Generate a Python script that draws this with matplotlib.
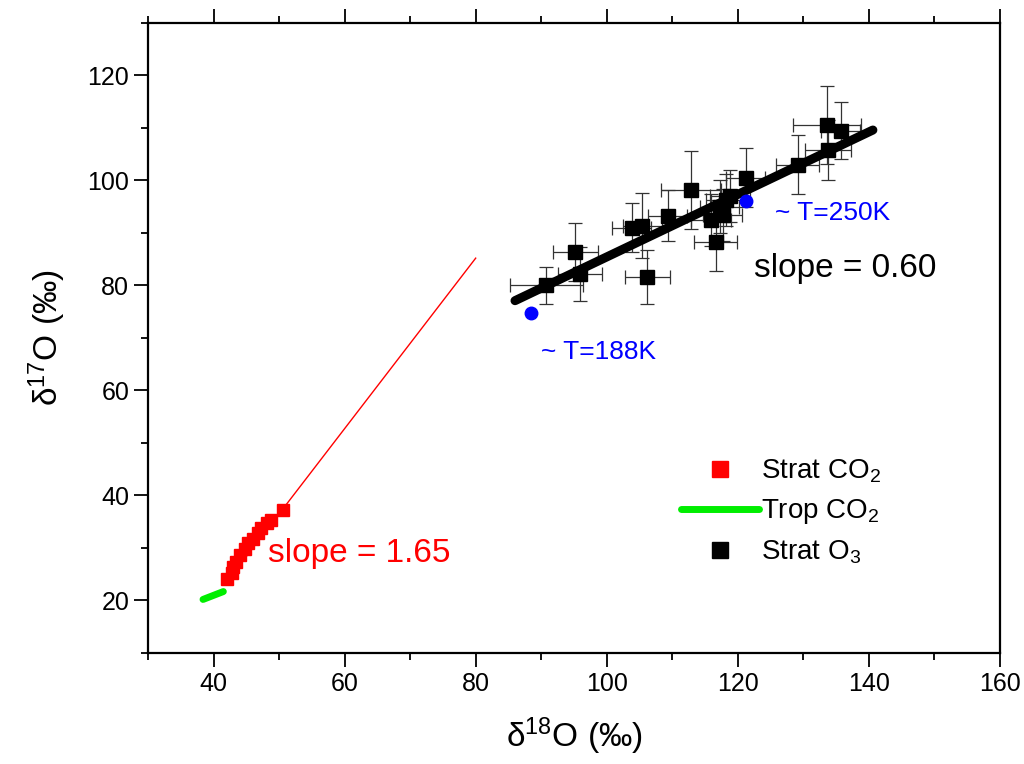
import numpy as np
import matplotlib
matplotlib.use("Agg")
import matplotlib.pyplot as plt
from matplotlib.ticker import MultipleLocator

plt.rcParams['font.family'] = ['Liberation Sans', 'DejaVu Sans']
plt.rcParams['mathtext.fontset'] = 'custom'
plt.rcParams['mathtext.rm'] = 'Liberation Sans'
plt.rcParams['mathtext.it'] = 'Liberation Sans:italic'
plt.rcParams['mathtext.default'] = 'regular'

# strat O3 measurements
o3_x = [90.8, 95.2, 95.9, 106.2, 103.8, 105.4, 109.3, 112.8, 115.9, 116.6,
        117.2, 117.7, 118.2, 118.8, 121.2, 129.1, 133.6, 135.7, 133.7]
o3_y = [80.0, 86.3, 82.2, 81.6, 91.0, 91.4, 93.3, 98.2, 92.5, 88.2,
        95.0, 93.4, 96.3, 97.0, 100.5, 103.0, 110.6, 109.5, 105.8]
o3_xerr = [5.6, 3.4, 3.3, 3.4, 3.0, 3.0, 3.0, 4.6, 3.0, 3.3,
           3.0, 3.0, 3.0, 3.0, 3.0, 3.3, 5.2, 3.0, 3.5]
o3_yerr = [3.5, 5.5, 5.1, 5.2, 4.7, 6.2, 4.9, 7.4, 5.0, 5.4,
           5.0, 5.0, 5.0, 5.0, 5.6, 5.6, 7.4, 5.5, 5.7]
fit_x = [86.0, 140.6]
fit_y = [77.1, 109.6]

# temperature points
temp_x = [88.4, 121.2]
temp_y = [74.8, 96.1]

# strat CO2
co2_x = [42.0, 42.8, 43.0, 43.5, 44.0, 44.8, 45.3, 46.0, 46.8, 47.3, 48.1, 48.8, 50.6]
co2_y = [24.0, 25.3, 26.3, 27.4, 28.7, 29.9, 30.9, 31.8, 32.8, 33.8, 34.7, 35.3, 37.2]
co2_line_x = [42.0, 80.0]
co2_line_y = [23.5, 85.2]

# trop CO2
trop_x = [38.4, 41.5]
trop_y = [20.2, 21.7]

fig = plt.figure(figsize=(10.24, 7.64), dpi=100)
ax = fig.add_axes([0.1445, 0.1453, 0.8321, 0.8247])

ax.plot(co2_line_x, co2_line_y, color='red', lw=1)
ax.plot(trop_x, trop_y, color='#00ee00', lw=5, solid_capstyle='round', label='Trop CO$_2$')
ax.plot(co2_x, co2_y, 's', color='red', ms=8.5, ls='none', label='Strat CO$_2$')

ax.errorbar(o3_x, o3_y, xerr=o3_xerr, yerr=o3_yerr, fmt='none', ecolor='#333333',
            elinewidth=0.9, capsize=5, capthick=0.9)
ax.plot(o3_x, o3_y, 's', color='black', ms=10, ls='none', label='Strat O$_3$')
ax.plot(fit_x, fit_y, color='black', lw=6.5, solid_capstyle='round')
ax.plot(temp_x, temp_y, 'o', color='blue', ms=9)

ax.text(122.5, 83.3, 'slope = 0.60', fontsize=24, va='center')
ax.text(48.3, 29.0, 'slope = 1.65', fontsize=24, va='center', color='red')
ax.text(125.6, 93.8, '~ T=250K', fontsize=19, va='center', color='blue')
ax.text(89.9, 67.3, '~ T=188K', fontsize=19, va='center', color='blue')

ax.set_xlim(30, 160)
ax.set_ylim(10, 130)
ax.xaxis.set_minor_locator(MultipleLocator(10))
ax.yaxis.set_minor_locator(MultipleLocator(10))
ax.set_xticks([40, 60, 80, 100, 120, 140, 160])
ax.set_yticks([20, 40, 60, 80, 100, 120])
ax.tick_params(which='both', direction='out', width=1.3, labelsize=18, top=True, right=False)
ax.tick_params(which='major', length=10)
ax.tick_params(which='minor', length=5)
for s in ax.spines.values():
    s.set_linewidth(1.6)

ax.set_xlabel('δ$^{18}$O (‰)', fontsize=24, labelpad=14)
ax.set_ylabel('δ$^{17}$O (‰)', fontsize=24, labelpad=14)

h, l = ax.get_legend_handles_labels()
order = [1, 0, 2]
leg = ax.legend([h[i] for i in order], [l[i] for i in order], loc='upper left',
                bbox_to_anchor=(0.596, 0.35), frameon=False, fontsize=20,
                handlelength=2.8, handletextpad=0.1, labelspacing=0.45)
for hd in leg.legend_handles:
    if hd.get_marker() == 's':
        hd.set_markersize(11)

fig.savefig('out.png', dpi=100)
